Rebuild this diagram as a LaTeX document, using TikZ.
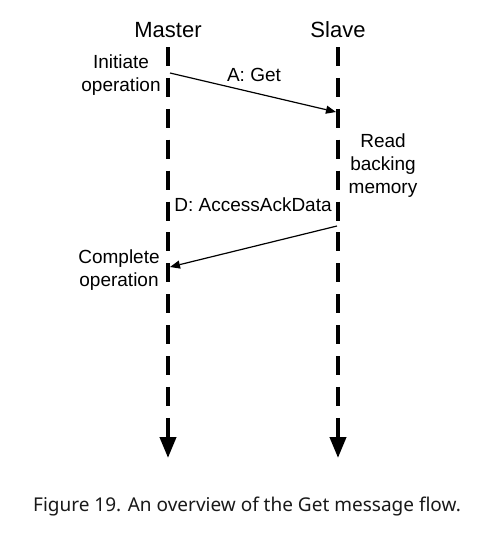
\documentclass[tikz,border=0pt]{standalone}
\usepackage{fontspec}
\setmainfont{Liberation Sans}
\newfontfamily\capfont{Noto Sans}
\usetikzlibrary{arrows.meta}
\tikzset{
  actor/.style={inner sep=0pt, font=\fontsize{22}{26}\selectfont},
  lbl/.style={inner sep=0pt, align=center, font=\fontsize{19}{23}\selectfont},
  lifeline/.style={line width=4pt, dash pattern=on 19pt off 11.9pt, -{Triangle[length=21pt,width=16pt]}},
  msg/.style={line width=1.2pt, -{Triangle[length=10pt,width=8pt]}},
}
\begin{document}
\begin{tikzpicture}[x=1pt,y=-1pt]
\useasboundingbox (0,0) rectangle (497,536);
\node[actor] (master) at (168,30) {Master};
\node[actor] (slave) at (338,30) {Slave};
\coordinate (mtop) at (168,47);
\coordinate (mbot) at (168,458);
\coordinate (stop) at (338,47);
\coordinate (sbot) at (338,458);
\draw[lifeline] (mtop) -- (mbot);
\draw[lifeline] (stop) -- (sbot);
\coordinate (a1) at (170,73);
\coordinate (a2) at (336,112);
\coordinate (d1) at (337,226);
\coordinate (d2) at (170,267);
\draw[msg] (a1) -- (a2);
\draw[msg] (d1) -- (d2);
\node[lbl] (init) at (121,75) {Initiate\\operation};
\node[lbl] (aget) at (254,75) {A: Get};
\node[lbl] (read) at (383,166) {Read\\backing\\memory};
\node[lbl] (dack) at (253,205) {D: AccessAckData};
\node[lbl] (comp) at (119,270) {Complete\\operation};
\node[inner sep=0pt, font=\capfont\fontsize{19}{23}\selectfont, text=black!90] (cap) at (247,507) {Figure 19. An overview of the Get message flow.};
\end{tikzpicture}
\end{document}
